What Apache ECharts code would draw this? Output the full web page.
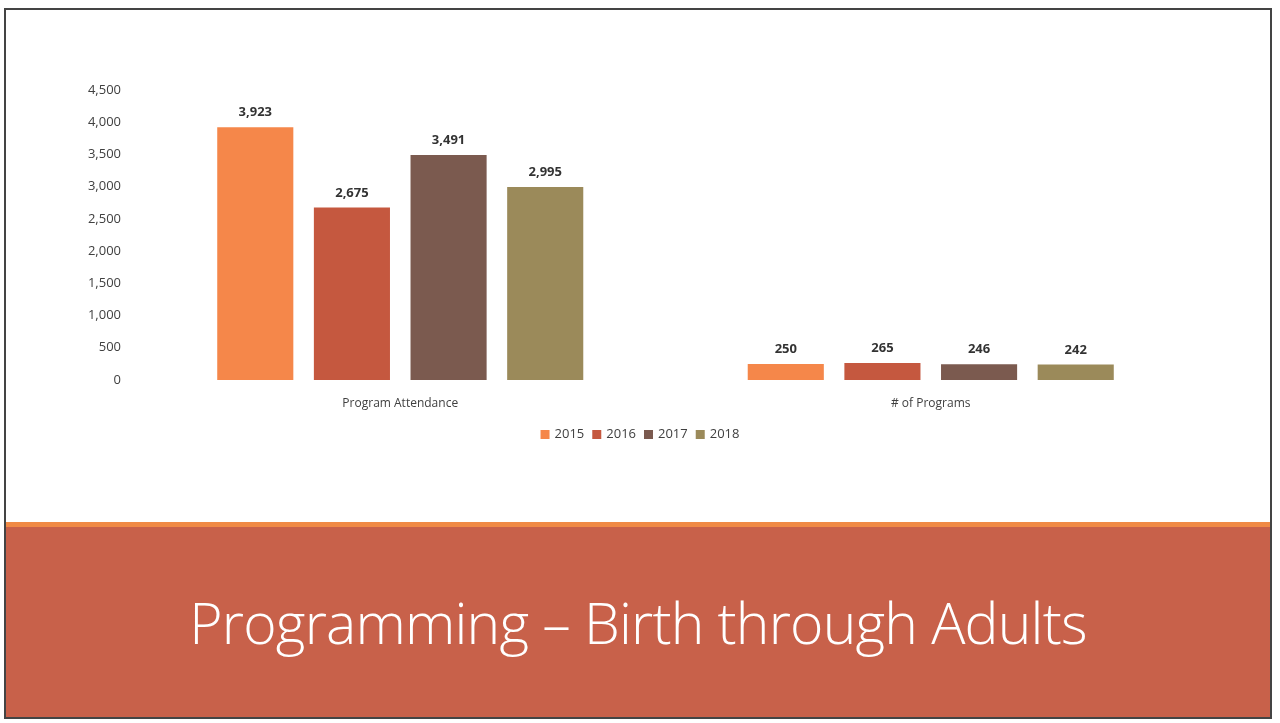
<!DOCTYPE html>
<html>
<head>
<meta charset="utf-8">
<script src="https://cdn.jsdelivr.net/npm/echarts@6/dist/echarts.min.js"></script>
<style>
  html, body { margin: 0; padding: 0; background: #fff; }
  .slide {
    position: absolute; left: 4px; top: 8px; width: 1268px; height: 711px;
    border: 2px solid #444; box-sizing: border-box; overflow: hidden;
  }
  #chart { position: absolute; left: -6px; top: -10px; width: 1280px; height: 520px; }
  .band {
    position: absolute; left: 0; top: 512px; width: 100%; height: 200px;
    background: #c8614a; border-top: 5px solid #f08a45;
  }
  .band h1 {
    margin: 0; position: absolute; left: 0; right: 0; top: 56px;
    text-align: center; color: #fff; font-family: "Open Sans", sans-serif;
    font-weight: 300; font-size: 57px; letter-spacing: -0.8px;
  }
</style>
</head>
<body>
<div class="slide">
  <div id="chart"></div>
  <div class="band"><h1>Programming – Birth through Adults</h1></div>
</div>
<script>
const categories = ["Program Attendance", "# of Programs"];
const years = ["2015", "2016", "2017", "2018"];
const values2015 = [3923, 250];
const values2016 = [2675, 265];
const values2017 = [3491, 246];
const values2018 = [2995, 242];
const colors = ["#f5874a", "#c5583f", "#7b5a4f", "#9b8a5a"];

const chart = echarts.init(document.getElementById("chart"));
const seriesData = [values2015, values2016, values2017, values2018];

chart.setOption({
  textStyle: { fontFamily: "Open Sans, sans-serif" },
  grid: { left: 135, right: 84, top: 90, bottom: 140 },
  legend: {
    data: years,
    bottom: 74,
    left: "center",
    icon: "rect",
    itemWidth: 9,
    itemHeight: 9,
    itemGap: 8,
    textStyle: { fontSize: 13, color: "#404040" }
  },
  xAxis: {
    type: "category",
    data: categories,
    axisLine: { show: false },
    axisTick: { show: false },
    axisLabel: { fontSize: 12, color: "#404040", margin: 18 }
  },
  yAxis: {
    type: "value",
    min: 0,
    max: 4500,
    interval: 500,
    splitLine: { show: false },
    axisLabel: {
      fontSize: 13, color: "#404040", margin: 14,
      formatter: v => v.toLocaleString("en-US")
    }
  },
  series: years.map((y, i) => ({
    name: y,
    type: "bar",
    data: seriesData[i],
    barGap: "27%",
    barCategoryGap: "31%",
    itemStyle: { color: colors[i] },
    label: {
      show: true, position: "top", distance: 8,
      fontSize: 13, fontWeight: "bold", color: "#333",
      formatter: p => p.value.toLocaleString("en-US")
    }
  }))
});
</script>
</body>
</html>
